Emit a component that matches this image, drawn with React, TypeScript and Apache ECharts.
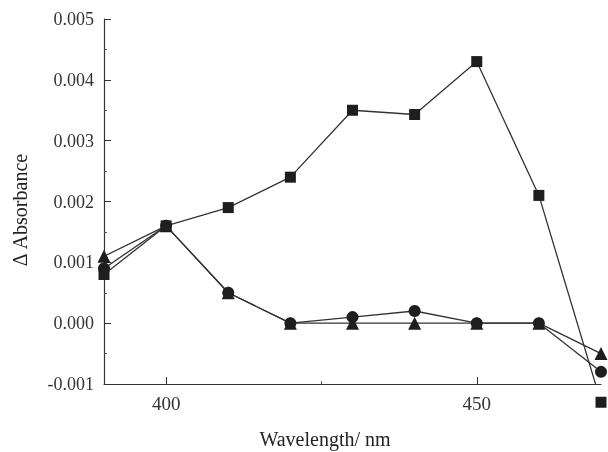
import React, { useEffect, useRef } from "react";
import * as echarts from "echarts";

const wavelengths = [390, 400, 410, 420, 430, 440, 450, 460, 470];
const squareValues = [0.0008, 0.0016, 0.0019, 0.0024, 0.0035, 0.00343, 0.0043, 0.0021, -0.0013];
const circleValues = [0.0009, 0.0016, 0.0005, 0.0, 0.0001, 0.0002, 0.0, 0.0, -0.0008];
const triangleValues = [0.0011, 0.0016, 0.0005, 0.0, 0.0, 0.0, 0.0, 0.0, -0.0005];
const xTickLabels = [400, 450];
const xMinorTicks = [425];
const xTitle = "Wavelength/ nm";
const yTitle = "Δ Absorbance";

const FONT = "'Liberation Serif', 'DejaVu Serif', serif";
const INK = "#1e1e1e";

function pairs(vals: number[]) {
  return wavelengths.map((w, i) => [w, vals[i]]);
}

export default function App() {
  const ref = useRef<HTMLDivElement>(null);
  useEffect(() => {
    if (!ref.current) return;
    const chart = echarts.init(ref.current, undefined, { renderer: "svg" });
    const sets = [
      { vals: triangleValues, symbol: "triangle", size: 13 },
      { vals: circleValues, symbol: "circle", size: 12 },
      { vals: squareValues, symbol: "rect", size: 11 },
    ];
    const series: any[] = [];
    sets.forEach((s) => {
      series.push({
        type: "line",
        data: pairs(s.vals),
        symbol: "none",
        clip: true,
        lineStyle: { color: "#333", width: 1.3 },
        z: 2,
      });
    });
    sets.forEach((s) => {
      series.push({
        type: "scatter",
        data: pairs(s.vals),
        symbol: s.symbol,
        symbolSize: s.size,
        clip: false,
        itemStyle: { color: INK, opacity: 1 },
        z: 3,
      });
    });
    chart.setOption({
      animation: false,
      grid: { left: 104, right: 7, top: 19, bottom: 68 },
      xAxis: [
        {
          type: "value",
          min: 390,
          max: 470,
          splitLine: { show: false },
          axisLine: { onZero: false, lineStyle: { color: "#333", width: 1.2 } },
          axisTick: { inside: true, length: 7, customValues: xTickLabels, lineStyle: { color: "#333" } },
          axisLabel: {
            customValues: xTickLabels,
            color: "#333",
            fontFamily: FONT,
            fontSize: 19,
            margin: 10,
          },
        },
        {
          type: "value",
          min: 390,
          max: 470,
          position: "bottom",
          splitLine: { show: false },
          axisLine: { show: false, onZero: false },
          axisTick: { inside: true, length: 3, customValues: xMinorTicks, lineStyle: { color: "#555" } },
          axisLabel: { show: false },
        },
      ],
      yAxis: {
        type: "value",
        min: -0.001,
        max: 0.005,
        interval: 0.001,
        splitLine: { show: false },
        axisLine: { show: true, onZero: false, lineStyle: { color: "#333", width: 1.2 } },
        axisTick: { show: true, inside: true, length: 7, lineStyle: { color: "#333" } },
        minorTick: { show: true, splitNumber: 2, length: 3, lineStyle: { color: "#555" } },
        axisLabel: {
          color: "#333",
          fontFamily: FONT,
          fontSize: 18,
          margin: 10,
          formatter: (v: number) => v.toFixed(3),
        },
      },
      graphic: [
        {
          type: "text",
          x: 325,
          y: 439,
          style: {
            text: xTitle,
            fill: "#222",
            font: `20px ${FONT}`,
            align: "center",
            verticalAlign: "middle",
          },
        },
        {
          type: "text",
          x: 20,
          y: 210,
          rotation: Math.PI / 2,
          style: {
            text: yTitle,
            fill: "#222",
            font: `20px ${FONT}`,
            align: "center",
            verticalAlign: "middle",
          },
        },
      ],
      series,
    });
    return () => chart.dispose();
  }, []);
  return <div ref={ref} style={{ width: 608, height: 452, position: "fixed", left: 0, top: 0 }} />;
}
